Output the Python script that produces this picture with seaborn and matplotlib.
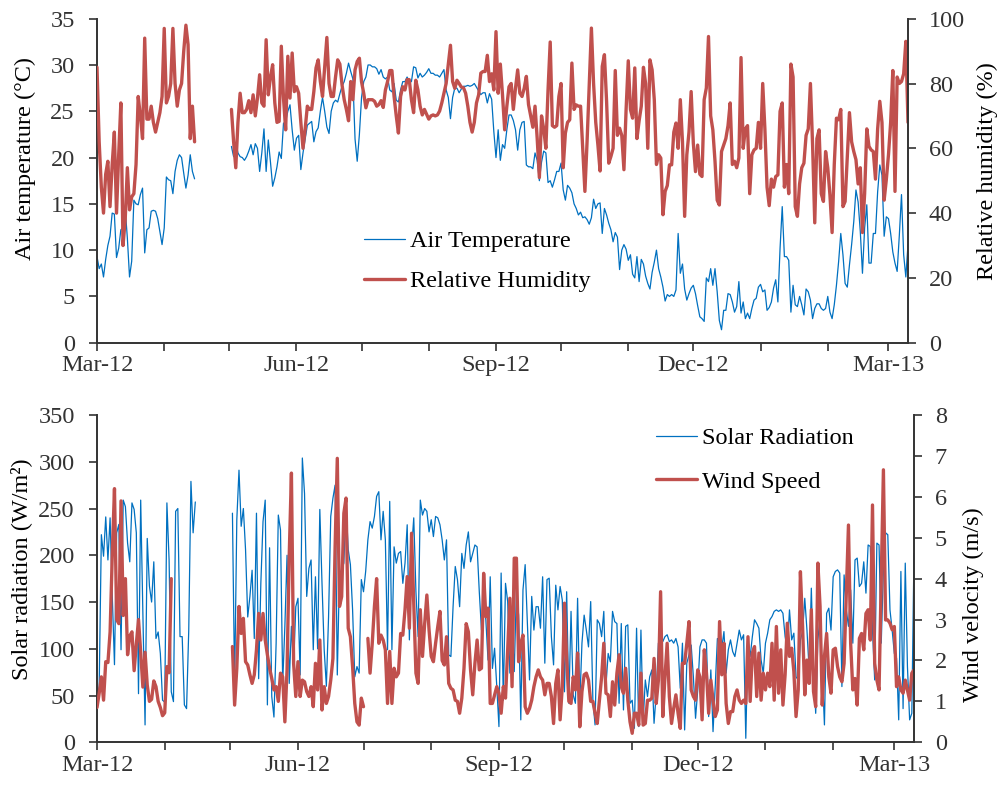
import numpy as np
import pandas as pd
import matplotlib
matplotlib.use("Agg")
import matplotlib.pyplot as plt
import matplotlib.dates as mdates
from matplotlib.lines import Line2D
from matplotlib.ticker import FuncFormatter, MultipleLocator
import seaborn as sns

# ---------------------------------------------------------------------------
# Daily weather record, 1 Mar 2012 onwards (None = no measurement)
# ---------------------------------------------------------------------------
START = "2012-03-01"
END = "2013-03-10"
NA = None

air_temperature = [
    9.3, 8.0, 8.5, 7.1, 9.0, 10.5, 11.5, 14.0, 13.9, 9.2,
    10.2, 12.2, 12.4, 14.5, 11.3, 7.1, 8.8, 15.4, 15.0, 14.9,
    16.0, 16.7, 9.7, 12.2, 12.4, 14.2, 14.3, 14.2, 13.4, 12.0,
    10.6, 12.4, 17.9, 17.6, 17.5, 16.1, 18.5, 19.7, 20.3, 20.0,
    18.3, 16.7, 18.1, 20.3, 18.5, 17.7,
] + [NA] * 16 + [
    21.2, 20.1, 21.6, 20.5, 20.1, 20.0, 19.7, 20.1, 20.7, 21.4,
    20.3, 21.5, 21.0, 18.5, 20.5, 23.1, 18.5, 21.9, 19.5, 16.9,
    17.8, 19.0, 20.6, 19.9, 23.7, 23.9, 25.0, 25.7, 23.0, 20.8,
    22.1, 22.4,
    18.7, 20.5, 22.0, 23.5, 23.7, 23.9, 21.7, 22.8, 23.2, 25.0,
    26.5, 25.0, 23.3, 22.6, 25.0, 25.9, 26.2, 26.0, 26.9, 27.7,
    28.2, 29.1, 30.2, 29.3, 28.5, 22.0, 19.6, 22.5, 26.5, 28.2,
    28.7, 30.0, 30.0, 29.8, 29.8, 29.6, 29.0, 29.5, 28.7, 28.5,
    28.7, 27.3, 27.1, 28.0, 26.2, 26.0, 27.3, 28.2, 28.2, 28.7,
    28.2, 28.2, 29.8, 29.7, 28.6, 29.1, 28.7, 28.9, 29.2, 29.6,
    29.1, 29.1, 28.9, 28.9, 28.7, 29.1, 29.5, 27.3, 26.5, 24.2,
    26.5, 27.5, 27.5, 27.0, 27.4, 27.7, 27.7, 27.8, 27.7, 27.8,
    28.0, 27.6, 27.2, 26.8, 27.0, 27.0, 25.9, 26.9, 26.3, 22.8,
    20.0, 23.0, 19.7, 21.4, 21.0,
    23.0, 24.6, 24.6, 24.0, 23.0, 20.8, 23.0, 23.8, 23.9, 19.2,
    19.0, 19.0, 18.8, 20.5, 19.7, 17.5, 19.5, 20.7, 20.5, 17.3,
    17.5, 16.8, 17.6, 18.5, 18.5, 19.4, 16.5, 15.4, 17.0, 16.7,
    16.2, 15.0, 14.5, 13.8, 14.1, 13.5, 13.6, 13.3, 12.8, 13.5,
    15.5, 14.5, 15.0, 15.1, 11.8, 14.5, 13.8, 12.9, 12.2, 10.9,
    11.9, 11.4, 7.9, 10.0, 10.6, 10.1, 8.9, 9.5, 7.4, 7.0,
    9.3, 6.6, 9.0, 8.5, 7.2, 6.4, 5.8, 7.6, 8.7, 10.0,
    8.0, 7.1, 6.0, 4.5, 5.2, 5.0, 5.2, 5.0, 5.7, 11.8,
    7.5, 8.5, 5.8, 4.6, 5.3, 5.9, 6.2, 5.3,
    4.0, 2.8, 2.6, 2.3, 7.0, 6.6, 8.0, 6.2, 8.0, 5.5,
    2.4, 1.4, 3.5, 3.5, 5.3, 5.2, 4.4, 3.3, 3.9, 6.6,
    3.2, 4.4, 2.6, 3.2, 2.6, 3.7, 4.6, 4.8, 6.0, 6.3,
    5.5, 5.7, 3.5, 3.8, 4.4, 5.9, 6.8, 4.4, 10.2, 14.7,
    9.3, 9.3, 8.9, 3.3, 6.2, 4.1, 3.9, 5.0, 4.1, 3.0,
    5.8, 5.5, 4.6, 2.6, 3.7, 4.2, 4.2, 3.7, 3.5, 3.7,
    5.0, 3.3, 2.6, 4.1, 6.2, 8.75, 11.8, 9.5, 6.4, 6.0,
    8.4, 10.6, 13.1, 16.5, 15.2, 12.0, 7.5, 12.4, 14.9, 8.6,
    8.6, 11.8, 11.8, 16.3, 19.2, 18.1, 11.5, 13.6, 13.4, 11.8,
    9.8, 8.6, 7.7, 11.6, 16.0, 9.5, 7.1, 10.6,
]

relative_humidity = [
    85, 62, 48, 40, 52, 56, 42, 55, 65, 40,
    58, 74, 30, 38, 54, 41, 45, 46, 55, 76,
    70, 63, 94, 69, 69, 73, 68, 65, 68, 71,
    76, 97, 74, 76, 80, 97, 80, 73, 78, 80,
    90, 98, 92, 63, 73, 62,
] + [NA] * 16 + [
    72, 62, 54, 68, 77, 71, 71, 72, 74.7, 71,
    76.5, 70, 75.5, 82.7, 74, 73, 93.5, 76.5, 82, 85.8,
    74, 68, 68.3, 91.5, 75.5, 65.7, 88.4, 75.5, 89.4, 77.5,
    79, 77,
    68, 60, 66, 73, 72, 72, 77.5, 84.8, 87.3, 80.6,
    76, 85, 94.2, 80, 76, 76, 82, 87.3, 86, 79.6,
    75, 72, 68.5, 80.6, 75, 84.2, 86.8, 87.8, 80.5, 77,
    72.5, 75, 75, 75, 74.5, 73, 73.5, 74.7, 72.6, 78,
    80.6, 84, 84, 76, 70, 64.7, 76, 79, 78, 81.2,
    81.2, 75, 71, 81, 78, 73, 70.3, 72, 70.5, 69,
    70, 70.3, 70, 70.3, 71.5, 74, 77, 80, 86, 91.8,
    80.6, 78.5, 81, 80, 78.9, 78.7, 77, 73, 68, 65,
    68, 74, 76.5, 83.2, 83.7, 83.7, 88.7, 80.6, 83, 78,
    96, 77, 86, 76.5, 65.7,
    73, 79, 80, 72, 78.6, 84.2, 77, 76, 78.5, 82.2,
    73.5, 70, 66.5, 73, 63, 51, 70, 66, 60, 78,
    92.8, 67, 66.5, 67, 76, 80, 54, 64.7, 68, 68.8,
    86.3, 72, 73.4, 73, 73, 60, 46.7, 62, 80, 97.1,
    80, 68, 61, 53, 85.3, 88.9, 74.5, 55.4, 57.5, 60,
    84, 64, 66.2, 64, 53.4, 72, 87, 72, 69.3, 84.8,
    63, 68.5, 73, 85, 80, 60, 87.3, 84.2, 75, 55,
    58, 57, 39.5, 46.7, 48.5, 54.9, 54.9, 65, 67.8, 60,
    75, 62, 39, 58, 65, 77.5, 61.6, 52.8,
    61, 52, 51.3, 75, 78.6, 94.5, 70, 65.7, 56, 44,
    42.5, 59, 61, 63, 67, 74, 55, 56, 54, 57,
    88, 60, 66, 67, 46, 58, 59.5, 60, 68, 60,
    80, 66, 48, 42.3, 50.5, 48, 51.3, 51.8, 71.4, 74,
    48, 55, 46, 86, 82, 42, 39, 49, 54, 55.4,
    64, 66, 80, 61, 37, 63, 65.7, 46, 43.6, 59,
    54, 45.6, 34, 55, 69.3, 68.8, 72, 42, 43.6, 57,
    71, 62, 59, 56.5, 49, 54, 34, 46, 66, 60.6,
    59.5, 59, 50.5, 66, 74.5, 68, 44, 50.3, 58, 68,
    84, 46.7, 82, 80, 80.6, 83, 93, 68,
]

solar_radiation = [
    45, 60, 222, 199, 241, 195, 240, 156, 83, 224,
    233, 99, 259, 252, 213, 193, 256, 249, 224, 52,
    259, 138, 18.6, 218, 167, 150, 193, 111, 118, 95,
    45, 43, 256, 195, 54, 43.5, 247, 250, 113, 113,
    40, 36, 120, 279, 224, 257,
] + [NA] * 16 + [
    245, 61, 238, 291, 231, 250, 206, 134, 156, 184,
    111, 245, 68, 170, 236, 259, 40, 208, 49, 27,
    106, 243, 227, 63, 124, 200, 63, 124, 81, 145,
    154,
    72, 304, 266, 156, 186, 195, 99, 177, 100, 249,
    170, 99, 60, 134, 241.5, 261, 275, 72, 181, 184,
    191.6, 254, 206, 190, 141.6, 70, 81, 74, 174, 161,
    183, 216.5, 236, 229, 241.5, 263, 268, 216.5, 247, 216.5,
    99, 257.6, 99, 209, 191.6, 202, 204, 170, 191.6, 232.6,
    109.5, 206, 240, 161, 113, 259, 243, 250, 247, 225,
    238, 220, 241.5, 240, 232.6, 216.5, 195, 216.5, 93.5, 91.7,
    145, 188, 174, 145, 202, 186, 211, 225, 193, 202,
    211, 209, 161, 120, 152, 131, 88, 177, 79, 100.6,
    60, 16.8,
    181, 45, 170, 150.5, 74, 125.6, 75.6, 163, 136, 24,
    163, 190, 127, 66.7, 156, 120, 145, 145, 122, 177,
    84.6, 174, 175.5, 113, 82.8, 168, 141.6, 166.6, 152, 54,
    161, 41.7, 140, 50.7, 41.7, 154, 41.7, 106, 136, 120,
    102, 150.5, 45, 18.6, 131, 127, 113, 140, 61, 95,
    86, 140, 129, 127, 41.7, 127, 34.6, 124, 125.6, 41.7,
    45, 15, 122, 16.8, 120, 22, 66.7, 49, 70, 77.4,
    20.3, 52.4, 106, 109.5, 107.7, 113, 115, 107.7, 109.5, 106,
    111, 102, 57.8, 106, 13.2, 84.6, 93.5, 104, 70, 25.7,
    56, 102, 109.5, 109.5,
    106, 27.5, 77.4, 11.4, 59.6, 111, 109.5, 100.6, 118.4, 74,
    99, 109.5, 97, 91.7, 106, 120, 109.5, 115, 4.3, 109.5,
    91.7, 113, 131, 127, 122, 88, 74, 106, 116.7, 131,
    134.5, 140, 141.6, 140, 141.6, 138, 113, 99, 141.6, 109.5,
    116.7, 70, 66.7, 109.5, 118.4, 154, 120, 77.4, 164.8, 77.4,
    31, 109.5, 134.5, 75.6, 18.6, 138, 143.4, 120, 177, 182.7,
    184.4, 181, 59.6, 179, 141.6, 124, 163, 106, 195, 197,
    166.6, 170, 193, 159.5, 211, 209.4, 120, 66.7, 213, 211,
    106, 184.4, 224, 222, 141.6, 120, 95, 90, 24, 182.7,
    36, 191.6, 81, 24, 31, 202,
]

wind_speed = [
    0.85, 1.2, 1.6, 1.03, 1.97, 1.95, 2.7, 4.6, 6.2, 3.0,
    2.9, 5.9, 3.1, 4.0, 2.14, 2.6, 2.7, 1.75, 2.4, 3.0,
    2.2, 1.35, 2.2, 1.4, 1.0, 1.05, 1.5, 1.36, 1.0, 0.85,
    0.65, 0.72, 1.85, 1.7, 4.0,
] + [NA] * 27 + [
    2.34, 0.91, 1.81, 3.32, 2.66, 3.03, 1.97, 1.89, 1.65, 1.44,
    1.65, 2.26, 3.15, 2.5, 3.15, 2.5, 2.14, 1.81, 1.56, 1.28,
    1.36, 1.0, 1.69, 1.6, 0.5, 1.77, 4.58, 6.58, 1.93, 1.12,
    1.97,
    1.12, 1.52, 1.48, 1.24, 1.12, 1.36, 0.87, 1.93, 1.28, 2.5,
    0.79, 1.36, 0.95, 1.12, 1.52, 2.05, 4.78, 6.94, 3.32, 3.56,
    5.6, 5.97, 2.79, 2.58, 1.85, 0.95, 0.5, 0.42, 1.08, 0.87,
    NA,
    2.54, 1.69, 2.42, 3.32, 4.0, 2.42, 2.62, 2.5, 2.26, 0.95,
    2.22, 0.95, 1.81, 1.6, 1.69, 2.66, 2.62, 3.24, 4.05, 2.79,
    5.11, 3.4, 1.69, 1.44, 3.24, 2.1, 2.9, 3.6, 2.75, 2.1,
    1.97, 2.42, 2.83, 3.2, 2.0, 1.89, 2.58, 1.44, 1.32, 1.28,
    1.03, 1.0, 0.71, 1.08, 1.81, 2.9, 2.7, 1.77, 1.16, 1.93,
    2.5, 1.77, 1.81, 4.13, 3.07, 3.28, 0.95, 0.95, 1.16, 1.36,
    1.2,
    0.71, 1.36, 1.08, 2.26, 3.52, 1.36, 4.5, 4.5, 1.97, 2.42,
    2.62, 0.87, 0.71, 0.83, 1.03, 1.36, 1.6, 1.77, 1.6, 1.52,
    1.16, 1.44, 1.44, 1.12, 0.46, 1.44, 1.77, 0.55, 1.36, 3.4,
    2.05, 1.0, 0.95, 1.6, 1.28, 2.18, 0.38, 1.24, 1.65, 1.69,
    1.52, 1.0, 1.0, 0.71, 0.46, 1.03, 1.6, 2.42, 1.2, 1.16,
    0.63, 1.48, 0.91, 1.69, 2.14, 1.36, 1.2, 1.81, 1.03, 0.5,
    0.22, 0.71, 0.71, 0.42, 1.69, 0.42, 0.46, 1.03, 1.03, 1.08,
    2.05, 0.95, 1.52, 3.68, 0.63, 1.6, 2.42, 1.12, 0.46, 0.83,
    1.16, 0.71, 0.34, 1.93, 1.93, 2.42, 2.95, 1.28, 1.12, 1.03,
    1.77, 1.6, 0.55, 2.26,
    1.69, 0.71, 1.52, 1.03, 0.63, 0.79, 2.95, 1.65, 2.42, 0.95,
    0.46, 0.75, 0.75, 1.12, 1.28, 1.03, 0.95, 1.03, 0.95, 2.58,
    1.0, 2.18, 2.34, 1.12, 2.18, 1.03, 1.69, 1.28, 1.69, 1.36,
    2.42, 1.03, 2.83, 1.2, 2.26, 0.91, 1.65, 2.91, 2.1, 2.3,
    1.73, 0.63, 1.28, 4.17, 2.83, 1.16, 2.01, 1.44, 3.24, 1.24,
    0.87, 4.38, 3.32, 0.91, 2.1, 2.66, 1.6, 1.2, 2.26, 2.3,
    1.85, 1.6, 1.48, 1.93, 3.64, 5.31, 2.42, 1.28, 1.56, 0.91,
    2.54, 2.66, 2.26, 3.15, 3.24, 2.5, 5.8, 1.93, 1.52, 1.28,
    3.97, 6.66, 2.99, 2.99, 2.91, 2.75, 2.83, 1.36, 1.6, 1.28,
    1.2, 1.52, 1.28, 1.03, 1.69, 1.77,
]

BLUE = "#0070C0"
RED = "#C0504D"
INK = "#333333"
FS = 17.5

sns.set_theme(style="ticks", rc={"axes.edgecolor": INK, "xtick.color": INK,
                                 "ytick.color": INK, "text.color": "black",
                                 "axes.labelcolor": "black"})
plt.rcParams["font.family"] = ["Liberation Serif", "DejaVu Serif"]


def daily_frame(values):
    """Daily series as a frame; runs between missing days become separate units."""
    v = pd.Series([np.nan if x is None else float(x) for x in values])
    df = pd.DataFrame({"date": pd.date_range(START, periods=len(v), freq="D"),
                       "value": v})
    df["run"] = df["value"].isna().cumsum()
    return df.dropna()


def draw(ax, values, color, lw):
    sns.lineplot(data=daily_frame(values), x="date", y="value", units="run",
                 estimator=None, color=color, lw=lw, ax=ax, legend=False,
                 solid_joinstyle="round")


def month_label(x, pos):
    d = mdates.num2date(x)
    return d.strftime("%b-%y") if d.month in (3, 6, 9, 12) else ""


W, H = 1003, 787
fig = plt.figure(figsize=(W / 100, H / 100), dpi=100)
fig.patch.set_facecolor("white")

ax_t = fig.add_axes([97 / W, 1 - 342.7 / H, 811 / W, 324 / H])
ax_t2 = ax_t.twinx()
ax_b = fig.add_axes([97 / W, 1 - 742.3 / H, 817 / W, 327.3 / H])
ax_b2 = ax_b.twinx()

draw(ax_t, air_temperature, BLUE, 0.9)
draw(ax_t2, relative_humidity, RED, 2.4)
draw(ax_b, solar_radiation, BLUE, 0.9)
draw(ax_b2, wind_speed, RED, 2.4)

x0, x1 = pd.Timestamp(START), pd.Timestamp(END)
for ax in (ax_t, ax_t2, ax_b, ax_b2):
    ax.set_xlim(x0, x1)
    ax.set_xlabel("")
    ax.spines["top"].set_visible(False)
    for s in ax.spines.values():
        s.set_linewidth(1.4)
        s.set_color(INK)

for main, twin in ((ax_t, ax_t2), (ax_b, ax_b2)):
    main.spines["right"].set_visible(False)
    twin.spines["left"].set_visible(False)
    twin.spines["bottom"].set_visible(False)
    main.xaxis.set_major_locator(mdates.MonthLocator())
    main.xaxis.set_major_formatter(FuncFormatter(month_label))
    main.tick_params(axis="x", direction="out", length=6, width=1.2,
                     labelsize=FS, pad=3)
    main.tick_params(axis="y", direction="out", length=6, width=1.2,
                     labelsize=FS, pad=10)
    twin.tick_params(axis="y", direction="out", length=6, width=1.2,
                     labelsize=FS, pad=9)

ax_t.set_ylim(0, 35)
ax_t.yaxis.set_major_locator(MultipleLocator(5))
ax_t2.set_ylim(0, 100)
ax_t2.yaxis.set_major_locator(MultipleLocator(20))
ax_b.set_ylim(0, 350)
ax_b.yaxis.set_major_locator(MultipleLocator(50))
ax_b2.set_ylim(0, 8)
ax_b2.yaxis.set_major_locator(MultipleLocator(1))

ax_t.set_ylabel("Air temperature (°C)", fontsize=FS)
ax_t.yaxis.set_label_coords(-0.075, 0.57)
ax_t2.set_ylabel("Relative humidity (%)", fontsize=FS)
ax_t2.yaxis.set_label_coords(1.085, 0.53)
ax_b.set_ylabel("Solar radiation (W/m²)", fontsize=FS)
ax_b.yaxis.set_label_coords(-0.080, 0.53)
ax_b2.set_ylabel("Wind velocity (m/s)", fontsize=FS)
ax_b2.yaxis.set_label_coords(1.06, 0.42)

legend_style = dict(frameon=False, fontsize=FS, handlelength=1.7,
                    handletextpad=0.2, borderpad=0, borderaxespad=0,
                    loc="upper left", bbox_transform=fig.transFigure)
ax_t2.legend([Line2D([], [], color=BLUE, lw=0.9), Line2D([], [], color=RED, lw=2.4)],
             ["Air Temperature", "Relative Humidity"], labelspacing=0.75,
             bbox_to_anchor=(364 / W, 1 - 230 / H), **legend_style)
ax_b2.legend([Line2D([], [], color=BLUE, lw=0.9), Line2D([], [], color=RED, lw=2.4)],
             ["Solar Radiation", "Wind Speed"], labelspacing=0.9,
             bbox_to_anchor=(656 / W, 1 - 427 / H), **legend_style)

fig.savefig("out.png", dpi=100, facecolor="white")
